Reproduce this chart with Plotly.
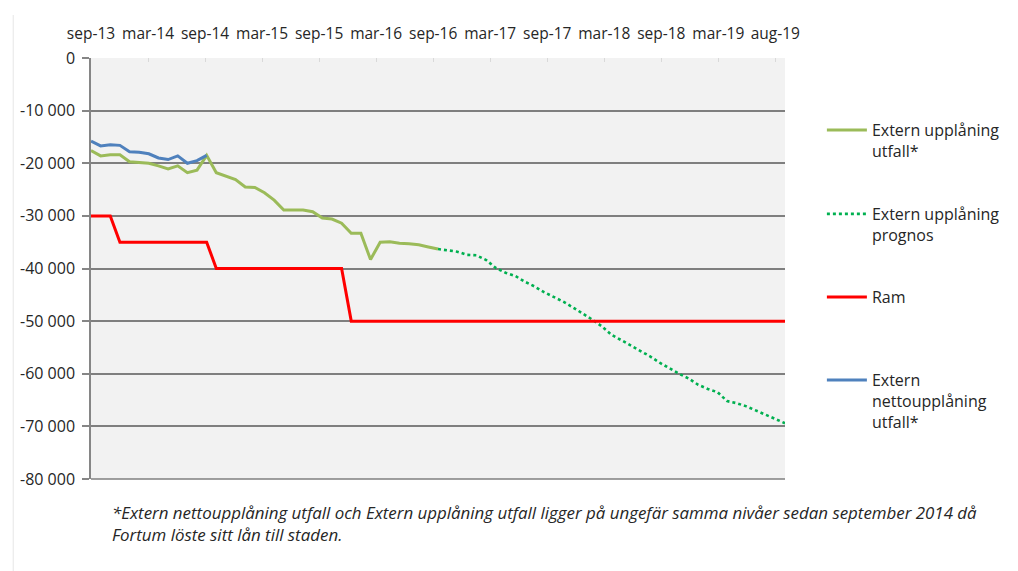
import plotly.graph_objects as go

# ---- data ----
month_index = list(range(73))  # sep-13 = 0 ... 72
x_tick_labels = ["sep-13", "mar-14", "sep-14", "mar-15", "sep-15", "mar-16", "sep-16",
                 "mar-17", "sep-17", "mar-18", "sep-18", "mar-19", "aug-19"]
y_tick_values = [0, -10000, -20000, -30000, -40000, -50000, -60000, -70000, -80000]
y_tick_labels = ["0", "-10 000", "-20 000", "-30 000", "-40 000", "-50 000", "-60 000", "-70 000", "-80 000"]

netto_utfall = [-15800, -16700, -16500, -16600, -17800, -17900, -18200, -19000, -19300,
                -18600, -20000, -19500, -18500]  # i = 0..12
upplaning_utfall = [-17600, -18600, -18400, -18400, -19700, -19800, -20000, -20500, -21100,
                    -20500, -21800, -21300, -18500, -21800, -22400, -23100, -24500, -24600,
                    -25600, -27000, -28900, -28900, -28900, -29200, -30400, -30600, -31400,
                    -33300, -33300, -38300, -35000, -34900, -35200, -35300, -35500, -35900,
                    -36300]  # i = 0..36
upplaning_prognos = [-36300, -36500, -36800, -37400, -37500, -38400, -39900, -40800, -41400,
                     -42500, -43400, -44500, -45400, -46300, -47400, -48500, -49700, -51000,
                     -52600, -53600, -54600, -55600, -56700, -57900, -59000, -60000, -60900,
                     -62100, -62900, -63500, -65200, -65600, -66200, -67000, -67900, -68600,
                     -69400]  # i = 36..72
ram = [-30000] * 3 + [-35000] * 10 + [-40000] * 14 + [-50000] * 46  # i = 0..72

footnote = ("<i>*Extern nettoupplåning utfall och Extern upplåning utfall ligger på ungefär samma "
            "nivåer sedan september 2014 då<br>Fortum löste sitt lån till staden.</i>")

# ---- figure ----
FONT = "Open Sans"
fig = go.Figure()

fig.add_trace(go.Scatter(x=month_index[:len(upplaning_utfall)], y=upplaning_utfall,
                         mode="lines", name="Extern upplåning<br>utfall*",
                         line=dict(color="#9bbb59", width=3), legend="legend"))
fig.add_trace(go.Scatter(x=month_index[36:36 + len(upplaning_prognos)], y=upplaning_prognos,
                         mode="lines", name="Extern upplåning<br>prognos",
                         line=dict(color="#00b050", width=2.6, dash="dot"), legend="legend2"))
fig.add_trace(go.Scatter(x=month_index[:len(ram)], y=ram,
                         mode="lines", name="Ram",
                         line=dict(color="#ff0000", width=3), legend="legend3"))
fig.add_trace(go.Scatter(x=month_index[:len(netto_utfall)], y=netto_utfall,
                         mode="lines", name="Extern<br>nettoupplåning<br>utfall*",
                         line=dict(color="#4f81bd", width=3), legend="legend4"))

OFF = 8  # page body margin
L, R, T, B = 89 - OFF, 785 - OFF, 58 - OFF, 479 - OFF
W, H = 1018 - OFF, 571 - OFF

def py(p):
    return (B - (p - OFF)) / (B - T)

def px(p):
    return ((p - OFF) - L) / (R - L)

leg_common = dict(xanchor="left", yanchor="top", bgcolor="rgba(0,0,0,0)",
                  font=dict(family=FONT, size=16, color="#262626"),
                  itemwidth=40, valign="top", borderwidth=0)

tick_positions = [k * 71 / 12 for k in range(13)]

fig.update_layout(
    width=W, height=H,
    margin=dict(l=L, r=W - R, t=T, b=H - B, pad=0),
    paper_bgcolor="white", plot_bgcolor="#f2f2f2",
    showlegend=True,
    legend=dict(x=px(822), y=py(113), **leg_common),
    legend2=dict(x=px(822), y=py(197), **leg_common),
    legend3=dict(x=px(822), y=py(280), **leg_common),
    legend4=dict(x=px(822), y=py(363), **leg_common),
    xaxis=dict(side="top", range=[0, 72], tickmode="array", tickvals=tick_positions,
               ticktext=x_tick_labels, showgrid=False, zeroline=False,
               showline=False, ticks="inside", ticklen=4, tickcolor="#d9d9d9",
               tickfont=dict(family=FONT, size=15.5, color="#262626"),
               ticklabelstandoff=15),
    yaxis=dict(range=[-80000, 0], tickmode="array", tickvals=y_tick_values,
               ticktext=y_tick_labels, showgrid=True, gridcolor="#7f7f7f", gridwidth=1.5,
               zeroline=False, showline=True, linecolor="#868686", linewidth=1.5,
               ticks="outside", ticklen=7, tickcolor="#868686", tickwidth=1.5,
               tickfont=dict(family=FONT, size=16, color="#262626"),
               ticklabelstandoff=4),
)

# bottom gridline at the axis minimum
fig.add_shape(type="line", xref="paper", yref="paper", x0=0, x1=1, y0=0, y1=0,
              line=dict(color="#7f7f7f", width=1.5), layer="above")

fig.add_shape(type="line", xref="paper", yref="paper", x0=px(11), x1=px(11),
              y0=py(15), y1=py(571), line=dict(color="#e6e6e6", width=1))

fig.add_annotation(text=footnote, xref="paper", yref="paper", x=px(108), y=py(499),
                   xanchor="left", yanchor="top", align="left", showarrow=False,
                   font=dict(family=FONT, size=16.9, color="#262626"))

fig.write_html("out.html")
